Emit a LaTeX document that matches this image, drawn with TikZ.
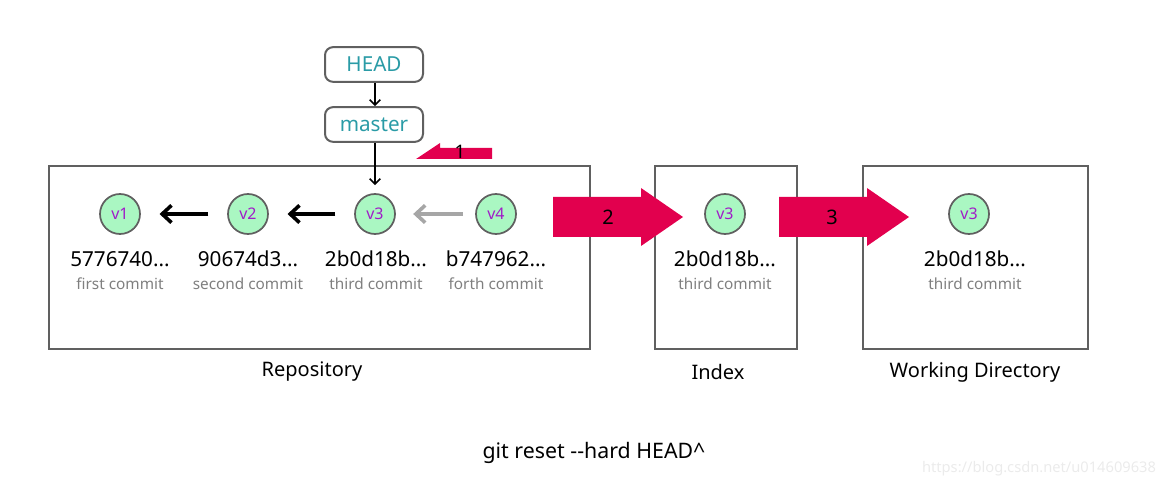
\documentclass[tikz,border=0pt]{standalone}
\usepackage{fontspec}
\setmainfont{Noto Sans}
\usetikzlibrary{arrows.meta}
\definecolor{teal1}{HTML}{2A9BA6}
\definecolor{frame}{HTML}{606060}
\definecolor{cfill}{HTML}{AAF7C2}
\definecolor{vtxt}{HTML}{A01CC8}
\definecolor{redx}{HTML}{E2004E}
\definecolor{subg}{HTML}{7F7F7F}
\tikzset{
  refbox/.style={draw=frame, line width=1.5pt, rounded corners=6pt, minimum width=73.5pt, minimum height=26pt, text=teal1, font=\fontsize{15.5}{17}\selectfont, inner sep=0pt},
  area/.style={draw=frame, line width=1.5pt},
  commit/.style={circle, draw=frame, line width=1.3pt, fill=cfill, minimum size=30pt, inner sep=0pt, text=vtxt, font=\fontsize{12}{14}\selectfont},
  hashlbl/.style={font=\fontsize{15.5}{17}\selectfont, inner sep=0pt},
  sublbl/.style={font=\fontsize{11.5}{13}\selectfont, text=subg, inner sep=0pt},
  arealbl/.style={font=\fontsize{15}{17}\selectfont, inner sep=0pt},
  parent/.style={-{Straight Barb[length=7pt,width=13pt]}, line width=2.7pt},
  ptr/.style={-{Straight Barb[length=4pt,width=8pt]}, line width=1.2pt},
  bigarrow/.style={fill=redx, draw=none},
  numlbl/.style={font=\fontsize{15}{17}\selectfont, inner sep=0pt}
}
\begin{document}
\begin{tikzpicture}[x=0.75pt,y=-0.75pt]
\useasboundingbox (0,0) rectangle (1156,488);
% areas
\node[area, minimum width=405.75pt, minimum height=137.25pt, inner sep=0pt] (repo) at (319.5,257.5) {};
\node[area, minimum width=106.5pt, minimum height=137.25pt, inner sep=0pt] (index) at (726,257.5) {};
\node[area, minimum width=168.75pt, minimum height=137.25pt, inner sep=0pt] (wd) at (975.5,257.5) {};
\node[arealbl] (repol) at (312,372) {Repository};
\node[arealbl] (indexl) at (718,372) {Index};
\node[arealbl] (wdl) at (975,372) {Working Directory};
% refs
\node[refbox] (head) at (374,64.5) {HEAD};
\node[refbox] (master) at (374,124.5) {master};
% commits
\node[commit] (v1) at (120,214) {v1};
\node[commit] (v2) at (248,214) {v2};
\node[commit] (v3) at (375,214) {v3};
\node[commit] (v4) at (496,214) {v4};
\node[commit] (iv3) at (725,214) {v3};
\node[commit] (wv3) at (969,214) {v3};
\node[hashlbl] (h1) at (120,259) {5776740...};
\node[hashlbl] (h2) at (248,259) {90674d3...};
\node[hashlbl] (h3) at (376,259) {2b0d18b...};
\node[hashlbl] (h4) at (496,259) {b747962...};
\node[hashlbl] (h5) at (725,259) {2b0d18b...};
\node[hashlbl] (h6) at (975,259) {2b0d18b...};
\node[sublbl] (s1) at (120,284) {first commit};
\node[sublbl] (s2) at (248,284) {second commit};
\node[sublbl] (s3) at (376,284) {third commit};
\node[sublbl] (s4) at (496,284) {forth commit};
\node[sublbl] (s5) at (725,284) {third commit};
\node[sublbl] (s6) at (975,284) {third commit};
% parent arrows
\draw[parent] ([xshift=-14pt]v2.west) -- ([xshift=14pt]v1.east);
\draw[parent] ([xshift=-14pt]v3.west) -- ([xshift=14pt]v2.east);
\draw[parent, draw=gray!70] ([xshift=-9pt]v4.west) -- ([xshift=13pt]v3.east);
% pointers
\draw[ptr] (head.south -| v3) -- (master.north -| v3);
\draw[ptr] (master.south -| v3) -- ([yshift=6pt]v3.north);
% red arrows
\path[bigarrow] (416,159) -- (440,143) -- (440,148) -- (492,148) -- (492,159) -- cycle;
\node[numlbl, font=\fontsize{14}{16}\selectfont] (n1) at (460,152) {1};
\path[bigarrow] (553,197) -- (641,197) -- (641,188) -- (683,217) -- (641,246) -- (641,237) -- (553,237) -- cycle;
\node[numlbl] (n2) at (608,217) {2};
\path[bigarrow] (779,197) -- (867,197) -- (867,188) -- (909,217) -- (867,246) -- (867,237) -- (779,237) -- cycle;
\node[numlbl] (n3) at (832,217) {3};
% command
\node[arealbl, font=\fontsize{16}{18}\selectfont] (cmd) at (594,453) {git reset -{}-hard HEAD\^{}};
\node[font=\fontsize{11}{13}\selectfont, text=black!8, inner sep=0pt] (wm) at (1039,469) {https://blog.csdn.net/u014609638};
\end{tikzpicture}
\end{document}
